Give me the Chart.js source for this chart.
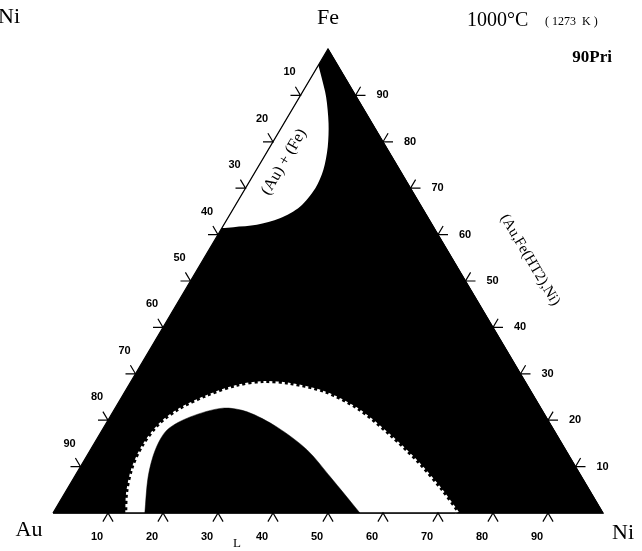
<!DOCTYPE html>
<html>
<head>
<meta charset="utf-8">
<script src="https://cdn.jsdelivr.net/npm/chart.js@4.4.0/dist/chart.umd.min.js"></script>
<style>
  html, body { margin: 0; padding: 0; background: #fff; }
  canvas { display: block; }
</style>
</head>
<body>
<canvas id="chart" width="642" height="551"></canvas>
<script>
// ternary ticks (at %)
const tickValues = [10, 20, 30, 40, 50, 60, 70, 80, 90];
const tickLabels = ['10', '20', '30', '40', '50', '60', '70', '80', '90'];

// phase boundaries, as at.% Ni and at.% Fe
// (Au) + (Fe) two-phase field near the Au-Fe edge
const gapNi = [0, 1.8, 4.8, 8.1, 10.5, 12.2, 12.7, 11.9, 9.5, 6.0, 2.0, 0];
const gapFe = [96.5, 94.0, 89.7, 84.0, 78.9, 73.9, 70.0, 66.0, 63.5, 62.1, 61.6, 61.4];

// outer (dashed) boundary of the L + solid band
const bandNi = [13.5, 11.5, 9.9, 9.3, 10.0, 12.0, 15.5, 19.9, 24.2, 29.3, 36.2, 44.2, 53.1, 60.8, 67.9, 73.5];
const bandFe = [0, 4.3, 9.3, 14.2, 19.0, 22.2, 25.0, 27.2, 28.0, 27.6, 25.9, 22.2, 16.4, 10.8, 5.0, 0];

// liquid field
const liquidNi = [16.7, 13.4, 11.8, 11.8, 14.6, 19.6, 24.4, 31.5, 39.4, 46.5, 55.8];
const liquidFe = [0, 7.8, 13.6, 17.9, 20.7, 22.6, 21.8, 18.5, 13.6, 7.8, 0];

const cornerNi = [0, 100, 0];
const cornerFe = [0, 0, 100];

// Ni/Fe -> cartesian (x = Ni + Fe/2, y = Fe)
function toXY(ni, fe) {
  return ni.map((n, i) => ({ x: n + fe[i] / 2, y: fe[i] }));
}

const serif = '"Liberation Serif", "DejaVu Serif", serif';

const ternaryAxes = {
  id: 'ternaryAxes',
  afterDatasetsDraw(chart) {
    const { ctx, scales: { x, y } } = chart;
    const pt = (ni, fe) => [x.getPixelForValue(ni + fe / 2), y.getPixelForValue(fe)];
    const A = pt(0, 0), N = pt(100, 0), F = pt(0, 100);
    const unit = (p, q) => {
      const dx = q[0] - p[0], dy = q[1] - p[1], l = Math.hypot(dx, dy);
      return [dx / l, dy / l];
    };
    const fa = unit(F, A);   // down-left
    const nf = unit(N, F);   // up-left
    const len = 10;

    ctx.save();
    ctx.strokeStyle = '#000';
    ctx.lineWidth = 1.2;
    ctx.fillStyle = '#000';
    ctx.font = 'bold 11px "Liberation Sans", Arial, sans-serif';
    ctx.textAlign = 'center';
    ctx.textBaseline = 'middle';

    const tick = (p, d1, d2) => {
      ctx.beginPath();
      ctx.moveTo(p[0] + d1[0] * len, p[1] + d1[1] * len);
      ctx.lineTo(p[0], p[1]);
      ctx.lineTo(p[0] + d2[0] * len, p[1] + d2[1] * len);
      ctx.stroke();
    };

    tickValues.forEach((v, i) => {
      // Au-Fe edge (Au %)
      let p = pt(0, 100 - v);
      tick(p, [-1, 0], nf);
      ctx.fillText(tickLabels[i], p[0] - 11, p[1] - 23);
      // Fe-Ni edge (Fe %)
      p = pt(100 - v, v);
      tick(p, [1, 0], [-fa[0], -fa[1]]);
      ctx.fillText(tickLabels[i], p[0] + 27, p[1]);
      // Au-Ni edge (Ni %)
      p = pt(v, 0);
      tick(p, fa, [-nf[0], -nf[1]]);
      ctx.fillText(tickLabels[i], p[0] - 11, p[1] + 24);
    });

    // corner and field labels
    ctx.font = '22px ' + serif;
    ctx.fillText('Au', A[0] - 24, A[1] + 17);
    ctx.fillText('Ni', N[0] + 20, N[1] + 20);
    ctx.fillText('Fe', F[0], 18);
    ctx.textAlign = 'left';
    ctx.fillText('Ni', -2, 17);

    ctx.font = '20px ' + serif;
    ctx.fillText('1000\u00b0C', 467, 21);
    ctx.font = '12px ' + serif;
    ctx.fillText('( 1273  K )', 545, 22);
    ctx.textAlign = 'right';
    ctx.font = 'bold 17px ' + serif;
    ctx.fillText('90Pri', 612, 58);

    ctx.textAlign = 'center';
    ctx.font = '13px ' + serif;
    ctx.fillText('L', 237, 544);

    const ang = Math.atan2(A[1] - F[1], F[0] - A[0]);
    ctx.font = '16px ' + serif;
    ctx.save();
    ctx.translate(284, 162);
    ctx.rotate(-ang);
    ctx.fillText('(Au) + (Fe)', 0, 0);
    ctx.restore();

    ctx.font = '15px ' + serif;
    ctx.save();
    ctx.translate(530, 260);
    ctx.rotate(ang);
    ctx.fillText('(Au,Fe(HT2),Ni)', 0, 0);
    ctx.restore();

    ctx.restore();
  }
};

new Chart(document.getElementById('chart'), {
  type: 'line',
  data: {
    datasets: [
      {
        data: toXY(cornerNi, cornerFe),
        fill: 'shape', backgroundColor: '#000', borderColor: '#000',
        borderWidth: 1, tension: 0, order: 10
      },
      {
        data: toXY(bandNi, bandFe),
        fill: 'shape', backgroundColor: '#fff', borderColor: 'rgba(0,0,0,0)',
        borderWidth: 0, tension: 0.3, order: 9
      },
      {
        data: toXY(bandNi, bandFe),
        fill: false, borderColor: '#fff', borderWidth: 4,
        borderDash: [3, 3], tension: 0.3, order: 8.5
      },
      {
        data: toXY(liquidNi, liquidFe),
        fill: 'shape', backgroundColor: '#000', borderColor: '#000',
        borderWidth: 0.5, tension: 0.3, order: 8
      },
      {
        data: toXY(gapNi, gapFe),
        fill: 'shape', backgroundColor: '#fff', borderColor: 'rgba(0,0,0,0)',
        borderWidth: 0, tension: 0.3, order: 7
      },
      {
        data: toXY(cornerNi.concat([0]), cornerFe.concat([0])),
        fill: false, borderColor: '#000', borderWidth: 1.3, tension: 0, order: 5
      }
    ]
  },
  options: {
    responsive: false,
    animation: false,
    events: [],
    layout: { padding: 0 },
    elements: { point: { radius: 0 } },
    scales: {
      x: { type: 'linear', min: -9.636, max: 107.09, display: false },
      y: { type: 'linear', min: -8.19, max: 110.56, display: false }
    },
    plugins: {
      legend: { display: false },
      tooltip: { enabled: false }
    }
  },
  plugins: [ternaryAxes]
});
</script>
</body>
</html>
